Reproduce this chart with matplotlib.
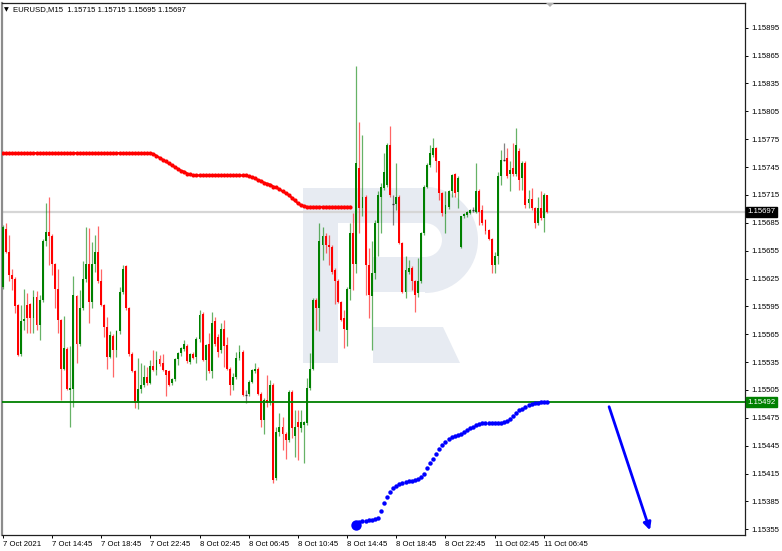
import matplotlib
matplotlib.use("Agg")
import matplotlib.pyplot as plt
from matplotlib.patches import Rectangle, Polygon, Wedge
from matplotlib.transforms import blended_transform_factory

# ---------------- data (EURUSD M15) ----------------
opens = [1.15616, 1.15678, 1.15654, 1.15629, 1.15625, 1.15596, 1.15544, 1.15579, 1.15597, 1.15598,
         1.15582, 1.15605, 1.15575, 1.15602, 1.15665, 1.15675, 1.15671, 1.15641, 1.15614, 1.15580,
         1.15528, 1.15549, 1.15505, 1.15506, 1.15606, 1.15554, 1.15593, 1.15624, 1.15641, 1.15600,
         1.15641, 1.15654, 1.15622, 1.15597, 1.15573, 1.15541, 1.15563, 1.15548, 1.15568, 1.15610,
         1.15638, 1.15593, 1.15544, 1.15525, 1.15491, 1.15506, 1.15510, 1.15519, 1.15513, 1.15531,
         1.15527, 1.15538, 1.15534, 1.15527, 1.15525, 1.15512, 1.15517, 1.15538, 1.15545, 1.15549,
         1.15552, 1.15535, 1.15544, 1.15540, 1.15560, 1.15587, 1.15537, 1.15554, 1.15525, 1.15579,
         1.15562, 1.15548, 1.15571, 1.15553, 1.15528, 1.15510, 1.15519, 1.15539, 1.15546, 1.15500,
         1.15501, 1.15514, 1.15525, 1.15528, 1.15501, 1.15473, 1.15494, 1.15491, 1.15510, 1.15410,
         1.15460, 1.15465, 1.15458, 1.15451, 1.15503, 1.15455, 1.15471, 1.15464, 1.15467, 1.15469,
         1.15507, 1.15528, 1.15602, 1.15593, 1.15661, 1.15671, 1.15661, 1.15659, 1.15634, 1.15622,
         1.15600, 1.15582, 1.15570, 1.15614, 1.15674, 1.15641, 1.15744, 1.15701, 1.15713, 1.15640,
         1.15606, 1.15631, 1.15685, 1.15713, 1.15722, 1.15726, 1.15769, 1.15705, 1.15705, 1.15713,
         1.15663, 1.15611, 1.15632, 1.15636, 1.15622, 1.15609, 1.15622, 1.15674, 1.15724, 1.15747,
         1.15758, 1.15765, 1.15751, 1.15717, 1.15694, 1.15702, 1.15719, 1.15738, 1.15718, 1.15659,
         1.15692, 1.15693, 1.15695, 1.15699, 1.15697, 1.15719, 1.15699, 1.15688, 1.15677, 1.15668,
         1.15640, 1.15649, 1.15735, 1.15753, 1.15755, 1.15738, 1.15744, 1.15737, 1.15762, 1.15733,
         1.15749, 1.15706, 1.15711, 1.15701, 1.15685, 1.15701, 1.15690, 1.15715]
highs = [1.15683, 1.15685, 1.15672, 1.15635, 1.15627, 1.15598, 1.15596, 1.15614, 1.15609, 1.15599,
         1.15613, 1.15612, 1.15607, 1.15668, 1.15706, 1.15713, 1.15673, 1.15642, 1.15635, 1.15581,
         1.15585, 1.15551, 1.15552, 1.15628, 1.15607, 1.15613, 1.15644, 1.15680, 1.15679, 1.15664,
         1.15672, 1.15682, 1.15635, 1.15598, 1.15584, 1.15568, 1.15565, 1.15570, 1.15616, 1.15640,
         1.15640, 1.15594, 1.15546, 1.15527, 1.15539, 1.15534, 1.15532, 1.15530, 1.15537, 1.15548,
         1.15547, 1.15543, 1.15544, 1.15527, 1.15527, 1.15518, 1.15539, 1.15546, 1.15551, 1.15559,
         1.15554, 1.15545, 1.15546, 1.15562, 1.15591, 1.15589, 1.15554, 1.15566, 1.15589, 1.15584,
         1.15565, 1.15577, 1.15580, 1.15562, 1.15530, 1.15523, 1.15546, 1.15553, 1.15548, 1.15505,
         1.15516, 1.15528, 1.15534, 1.15530, 1.15503, 1.15496, 1.15521, 1.15516, 1.15512, 1.15465,
         1.15480, 1.15476, 1.15460, 1.15505, 1.15505, 1.15483, 1.15483, 1.15483, 1.15472, 1.15518,
         1.15545, 1.15604, 1.15604, 1.15685, 1.15681, 1.15674, 1.15672, 1.15661, 1.15636, 1.15624,
         1.15601, 1.15591, 1.15616, 1.15685, 1.15695, 1.15854, 1.15794, 1.15780, 1.15715, 1.15658,
         1.15665, 1.15688, 1.15719, 1.15728, 1.15760, 1.15771, 1.15789, 1.15715, 1.15749, 1.15715,
         1.15664, 1.15649, 1.15645, 1.15638, 1.15623, 1.15647, 1.15675, 1.15726, 1.15749, 1.15769,
         1.15776, 1.15767, 1.15752, 1.15718, 1.15719, 1.15720, 1.15737, 1.15739, 1.15735, 1.15692,
         1.15696, 1.15698, 1.15700, 1.15702, 1.15749, 1.15721, 1.15704, 1.15689, 1.15678, 1.15669,
         1.15654, 1.15740, 1.15763, 1.15771, 1.15765, 1.15751, 1.15771, 1.15787, 1.15765, 1.15751,
         1.15751, 1.15720, 1.15722, 1.15702, 1.15713, 1.15719, 1.15717, 1.15715]
lows = [1.15614, 1.15652, 1.15622, 1.15613, 1.15588, 1.15542, 1.15542, 1.15570, 1.15566, 1.15566,
        1.15566, 1.15570, 1.15559, 1.15600, 1.15660, 1.15640, 1.15629, 1.15593, 1.15566, 1.15494,
        1.15527, 1.15505, 1.15465, 1.15487, 1.15534, 1.15552, 1.15591, 1.15621, 1.15577, 1.15593,
        1.15632, 1.15620, 1.15595, 1.15562, 1.15528, 1.15539, 1.15519, 1.15541, 1.15565, 1.15608,
        1.15591, 1.15542, 1.15524, 1.15486, 1.15485, 1.15502, 1.15508, 1.15510, 1.15511, 1.15525,
        1.15521, 1.15531, 1.15525, 1.15499, 1.15509, 1.15510, 1.15515, 1.15532, 1.15542, 1.15547,
        1.15534, 1.15533, 1.15538, 1.15534, 1.15557, 1.15536, 1.15516, 1.15523, 1.15518, 1.15552,
        1.15540, 1.15545, 1.15530, 1.15527, 1.15500, 1.15505, 1.15517, 1.15537, 1.15498, 1.15491,
        1.15499, 1.15512, 1.15523, 1.15500, 1.15465, 1.15458, 1.15487, 1.15489, 1.15405, 1.15408,
        1.15455, 1.15440, 1.15431, 1.15449, 1.15453, 1.15433, 1.15430, 1.15460, 1.15426, 1.15467,
        1.15505, 1.15527, 1.15570, 1.15568, 1.15645, 1.15652, 1.15640, 1.15630, 1.15598, 1.15599,
        1.15579, 1.15550, 1.15552, 1.15602, 1.15613, 1.15631, 1.15674, 1.15692, 1.15607, 1.15582,
        1.15548, 1.15625, 1.15649, 1.15674, 1.15720, 1.15724, 1.15713, 1.15683, 1.15699, 1.15662,
        1.15609, 1.15604, 1.15630, 1.15613, 1.15589, 1.15605, 1.15620, 1.15672, 1.15722, 1.15745,
        1.15756, 1.15740, 1.15710, 1.15692, 1.15674, 1.15700, 1.15713, 1.15713, 1.15701, 1.15658,
        1.15690, 1.15691, 1.15694, 1.15697, 1.15696, 1.15683, 1.15683, 1.15673, 1.15667, 1.15631,
        1.15631, 1.15641, 1.15726, 1.15751, 1.15733, 1.15719, 1.15735, 1.15735, 1.15720, 1.15720,
        1.15701, 1.15701, 1.15699, 1.15679, 1.15683, 1.15688, 1.15675, 1.15695]
closes = [1.15681, 1.15654, 1.15629, 1.15625, 1.15595, 1.15543, 1.15579, 1.15581, 1.15582, 1.15582,
          1.15605, 1.15575, 1.15602, 1.15665, 1.15675, 1.15671, 1.15641, 1.15614, 1.15580, 1.15528,
          1.15550, 1.15506, 1.15507, 1.15607, 1.15554, 1.15593, 1.15624, 1.15641, 1.15600, 1.15641,
          1.15654, 1.15622, 1.15597, 1.15573, 1.15541, 1.15564, 1.15548, 1.15568, 1.15610, 1.15635,
          1.15593, 1.15544, 1.15525, 1.15491, 1.15506, 1.15510, 1.15519, 1.15512, 1.15531, 1.15527,
          1.15537, 1.15533, 1.15527, 1.15521, 1.15510, 1.15517, 1.15538, 1.15545, 1.15550, 1.15554,
          1.15536, 1.15544, 1.15539, 1.15560, 1.15586, 1.15537, 1.15553, 1.15525, 1.15577, 1.15554,
          1.15546, 1.15571, 1.15552, 1.15528, 1.15510, 1.15519, 1.15539, 1.15546, 1.15500, 1.15500,
          1.15514, 1.15527, 1.15528, 1.15501, 1.15473, 1.15494, 1.15491, 1.15510, 1.15408, 1.15460,
          1.15465, 1.15458, 1.15451, 1.15503, 1.15464, 1.15465, 1.15465, 1.15471, 1.15471, 1.15507,
          1.15528, 1.15602, 1.15593, 1.15665, 1.15671, 1.15661, 1.15659, 1.15632, 1.15622, 1.15600,
          1.15580, 1.15571, 1.15614, 1.15674, 1.15641, 1.15749, 1.15701, 1.15713, 1.15640, 1.15607,
          1.15631, 1.15685, 1.15715, 1.15724, 1.15740, 1.15769, 1.15715, 1.15705, 1.15713, 1.15663,
          1.15611, 1.15634, 1.15636, 1.15622, 1.15607, 1.15622, 1.15674, 1.15724, 1.15747, 1.15760,
          1.15765, 1.15751, 1.15717, 1.15695, 1.15704, 1.15719, 1.15736, 1.15717, 1.15733, 1.15692,
          1.15694, 1.15697, 1.15699, 1.15699, 1.15719, 1.15697, 1.15685, 1.15676, 1.15668, 1.15640,
          1.15649, 1.15735, 1.15753, 1.15753, 1.15735, 1.15742, 1.15737, 1.15769, 1.15731, 1.15749,
          1.15704, 1.15711, 1.15701, 1.15685, 1.15701, 1.15690, 1.15715, 1.15697]

red_line = ([1.15760] * 49 +
            [1.15759, 1.15757, 1.15755, 1.15753, 1.15751, 1.15749, 1.15747, 1.15745, 1.15743,
             1.15741, 1.15740, 1.15738, 1.15737] +
            [1.15736] * 18 +
            [1.15735, 1.15734, 1.15733, 1.15731, 1.15730, 1.15728, 1.15727, 1.15726, 1.15724,
             1.15723, 1.15721, 1.15719, 1.15717, 1.15715, 1.15712, 1.15709, 1.15706, 1.15704,
             1.15703] +
            [1.15702] * 15)
blue_start = 115
blue_line = [1.15360, 1.15363, 1.15364, 1.15364, 1.15365, 1.15365, 1.15366, 1.15367, 1.15375, 1.15383,
             1.15390, 1.15395, 1.15399, 1.15402, 1.15404, 1.15405, 1.15406, 1.15407, 1.15407, 1.15408,
             1.15409, 1.15411, 1.15415, 1.15421, 1.15426, 1.15431, 1.15436, 1.15441, 1.15446, 1.15449,
             1.15452, 1.15454, 1.15456, 1.15457, 1.15458, 1.15460, 1.15462, 1.15464, 1.15465, 1.15467,
             1.15468, 1.15469, 1.15469, 1.15469, 1.15469, 1.15469, 1.15470, 1.15470, 1.15471, 1.15472,
             1.15474, 1.15477, 1.15480, 1.15483, 1.15485, 1.15487, 1.15489, 1.15490, 1.15491, 1.15491,
             1.15492, 1.15492, 1.15492]

current_price = 1.15697
level_price = 1.15492
arrow_from = (197.2, 1.15487)
arrow_to = (210.5, 1.15354)

ytick_labels = ["1.15355", "1.15385", "1.15415", "1.15445", "1.15475", "1.15505", "1.15535",
                "1.15565", "1.15595", "1.15625", "1.15655", "1.15685", "1.15715", "1.15745",
                "1.15775", "1.15805", "1.15835", "1.15865", "1.15895"]
xtick_bars = [0, 16, 32, 48, 64, 80, 96, 112, 128, 144, 160, 176]
xtick_labels = ["7 Oct 2021", "7 Oct 14:45", "7 Oct 18:45", "7 Oct 22:45", "8 Oct 02:45",
                "8 Oct 06:45", "8 Oct 10:45", "8 Oct 14:45", "8 Oct 18:45", "8 Oct 22:45",
                "11 Oct 02:45", "11 Oct 06:45"]
header = "EURUSD,M15  1.15715 1.15715 1.15695 1.15697"

# ---------------- figure ----------------
W, H = 782, 551
plt.rcParams["font.family"] = ["Liberation Sans", "DejaVu Sans"]
fig = plt.figure(figsize=(W / 100, H / 100), dpi=100)
fig.patch.set_facecolor("white")
ax = fig.add_axes([2 / W, 16 / H, 743 / W, 532 / H])
ax.set_xlim(-0.23, 241.4)
ax.set_ylim(1.153489, 1.159216)

# watermark (pixel coordinates converted to inches)
def pin(x, y):
    return (x / 100.0, (H - y) / 100.0)

wm = "#e7ebf2"
tr = fig.dpi_scale_trans
shapes = [
    Rectangle(pin(303, 363), 0.35, 1.75, transform=tr),
    Rectangle(pin(303, 223), 1.22, 0.35, transform=tr),
    Rectangle(pin(373, 292), 0.52, 0.35, transform=tr),
    Wedge(pin(425, 240), 0.53, -90, 90, width=0.36, transform=tr),
    Polygon([pin(373, 327), pin(443, 327), pin(460, 363), pin(373, 363)], closed=True, transform=tr),
]
for s in shapes:
    s.set_facecolor(wm)
    s.set_edgecolor("none")
    s.set_zorder(0.5)
    ax.add_patch(s)

# horizontal lines
ax.axhline(current_price, color="#d6d6d6", lw=1.6, zorder=1)
ax.axhline(level_price, color="#008000", lw=1.3, zorder=4)

# candles
n = len(opens)
for i in range(n):
    o, h, l, c = opens[i], highs[i], lows[i], closes[i]
    if c > o:
        col = "#008000"
    elif c < o:
        col = "#ff0000"
    else:
        col = "#303030"
    ax.vlines(i, l, h, colors=col, lw=0.9, alpha=0.6, zorder=2)
    if c == o:
        ax.hlines(o, i - 0.35, i + 0.35, colors=col, lw=0.9, zorder=3)
    else:
        ax.bar(i, abs(c - o), bottom=min(o, c), width=0.62, color=col, lw=0, zorder=3)

# indicator dots
ax.plot(range(len(red_line)), red_line, color="#ff0000", lw=1.6, marker="o", ms=3.0,
        mec="none", zorder=4)
bx = list(range(blue_start, blue_start + len(blue_line)))
ax.plot(bx, blue_line, ls="none", marker="o", ms=3.2, color="#0000ff", mec="none", zorder=4)
ax.plot([bx[0]], [blue_line[0]], ls="none", marker="o", ms=7.5, color="#0000ff", mec="none", zorder=5)

# arrow
ax.annotate("", xy=arrow_to, xytext=arrow_from,
            arrowprops=dict(arrowstyle="-|>", color="#0000ff", lw=2.0, mutation_scale=11,
                            shrinkA=0, shrinkB=0), zorder=5)

# axes styling
fs = 5.6
ax.yaxis.tick_right()
ax.set_yticks([float(t) for t in ytick_labels])
ax.set_yticklabels(ytick_labels)
ax.set_xticks(xtick_bars)
ax.set_xticklabels(xtick_labels)
for lab in ax.get_xticklabels():
    lab.set_horizontalalignment("left")
ax.tick_params(axis="both", direction="out", length=2.5, width=0.7, labelsize=fs, colors="#000000", pad=1.8)
ax.tick_params(axis="x", pad=2.0)
for side in ["top", "right", "bottom"]:
    ax.spines[side].set_color("#202020")
    ax.spines[side].set_linewidth(0.9)
ax.spines["left"].set_color("#8c8c8c")
ax.spines["left"].set_linewidth(1.6)

# price tags on the right axis
bt = blended_transform_factory(ax.transAxes, ax.transData)
ax.text(1.0035, current_price, "1.15697", transform=bt, fontsize=fs, color="white", va="center", ha="left",
        bbox=dict(boxstyle="square,pad=0.2", fc="black", ec="black"), zorder=6, clip_on=False)
ax.text(1.0035, level_price, "1.15492", transform=bt, fontsize=fs, color="white", va="center", ha="left",
        bbox=dict(boxstyle="square,pad=0.2", fc="#008000", ec="#008000"), zorder=6, clip_on=False)

# header
fig.text(4 / W, 1 - 9.5 / H, "\u25bc", fontsize=4.5, color="black", va="center", ha="left",
         family=["DejaVu Sans"])
fig.text(13 / W, 1 - 9.5 / H, header, fontsize=fs, color="black", va="center", ha="left")

# chart shift marker
fig.patches.append(Polygon([(546 / W, 1 - 3 / H), (554 / W, 1 - 3 / H), (550 / W, 1 - 7 / H)],
                           closed=True, transform=fig.transFigure, fc="#b0b0b0", ec="none"))

fig.savefig("out.png", dpi=100, facecolor="white")
